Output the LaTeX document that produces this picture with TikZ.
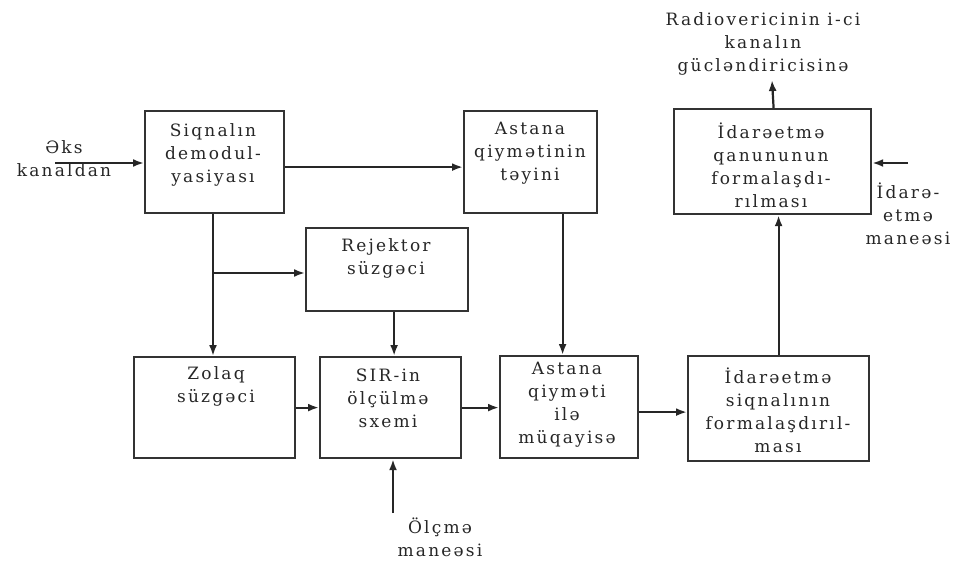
\documentclass[tikz,border=0pt]{standalone}
\usepackage{fontspec}
\setmainfont{DejaVu Serif}[LetterSpace=13]
\usetikzlibrary{arrows.meta}
\begin{document}
\begin{tikzpicture}[x=1pt,y=-1pt,
  box/.style={draw=black!80, line width=2.2pt, rectangle, inner sep=0pt},
  txt/.style={align=center, inner sep=0pt, text=black!85, font=\fontsize{17}{23}\selectfont},
  arr/.style={draw=black!85, line width=2.2pt, -{Latex[length=11pt,width=8pt]}}]
\useasboundingbox (0,0) rectangle (954,562);
% boxes
\node[box, minimum width=139pt, minimum height=102pt, anchor=north west] (b1) at (144,110) {};
\node[box, minimum width=133pt, minimum height=102pt, anchor=north west] (b2) at (463,110) {};
\node[box, minimum width=197pt, minimum height=105pt, anchor=north west] (b3) at (673,108) {};
\node[box, minimum width=162pt, minimum height=83pt, anchor=north west] (b4) at (305,227) {};
\node[box, minimum width=161pt, minimum height=101pt, anchor=north west] (b5) at (133,356) {};
\node[box, minimum width=141pt, minimum height=101pt, anchor=north west] (b6) at (319,356) {};
\node[box, minimum width=138pt, minimum height=102pt, anchor=north west] (b7) at (499,355) {};
\node[box, minimum width=181pt, minimum height=105pt, anchor=north west] (b8) at (687,355) {};
% box texts
\node[txt] (t1) at (213,155) {Siqnalın\\demodul-\\yasiyası};
\node[txt] (t2) at (530,153) {Astana\\qiymətinin\\təyini};
\node[txt] (t3) at (771,165) {İdarəetmə\\qanununun\\formalaşdı-\\rılması};
\node[txt] (t4) at (386,258) {Rejektor\\süzgəci};
\node[txt] (t5) at (216,386) {Zolaq\\süzgəci};
\node[txt] (t6) at (388,398) {SIR-in\\ölçülmə\\sxemi};
\node[txt] (t7) at (567,405) {Astana\\qiyməti\\ilə\\müqayisə};
\node[txt] (t8) at (778,410) {İdarəetmə\\siqnalının\\formalaşdırıl-\\ması};
% free labels
\node[txt] (lin) at (64,159) {Əks\\kanaldan};
\node[txt] (lout) at (763,44) {Radiovericinin i-ci\\kanalın\\gücləndiricisinə};
\node[txt] (lman) at (908,214) {İdarə-\\etmə\\maneəsi};
\node[txt] (lolc) at (440,537) {Ölçmə\\maneəsi};
% free ends
\coordinate (cin) at (55,163);
\coordinate (cout) at (772,80);
\coordinate (cman) at (908,163);
\coordinate (colc) at (393,513);
\coordinate (br) at (213,273);
% connectors
\draw[arr] (cin) -- (cin -| b1.west);
\draw[arr] ([yshift=-5pt]b1.east) -- ([yshift=-5pt]b2.west);
\draw[arr] (b1.south -| br) -- (br |- b5.north);
\draw[arr] (br) -- (br -| b4.west);
\draw[arr] ([xshift=7pt]b4.south) -- ([xshift=7pt]b4.south |- b6.north);
\draw[arr] ([xshift=32pt]b2.south) -- ([xshift=32pt]b2.south |- b7.north);
\draw[arr] (b5.east) -- (b5.east -| b6.west);
\draw[arr] (b6.east) -- (b6.east -| b7.west);
\draw[arr] ([yshift=-5pt]b7.east) -- ([yshift=-5pt]b7.east -| b8.west);
\draw[arr] (b8.north) -- (b8.north |- b3.south);
\draw[arr] ([xshift=1pt]b3.north) -- (cout);
\draw[arr] (cman) -- (cman -| b3.east);
\draw[arr] (colc) -- (colc |- b6.south);
\end{tikzpicture}
\end{document}
